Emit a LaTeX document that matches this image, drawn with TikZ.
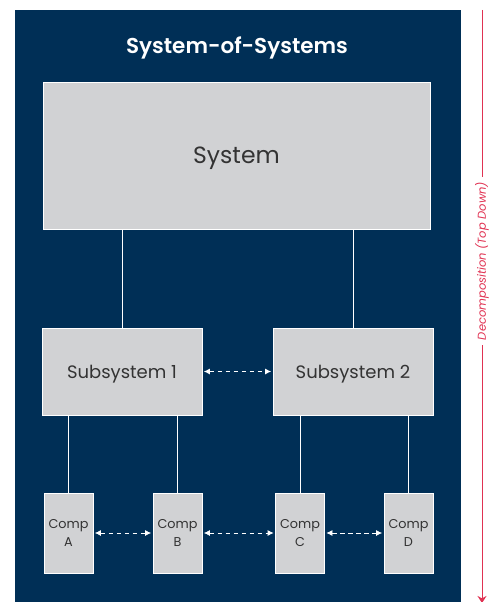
\documentclass[tikz,border=0pt]{standalone}
\usepackage{xcolor}
\usepackage{fontspec}
\setmainfont{Poppins}[BoldFont={Poppins SemiBold}]
\usetikzlibrary{arrows.meta}

\definecolor{navy}{RGB}{0,47,86}
\definecolor{boxgrey}{RGB}{209,210,212}
\definecolor{textgrey}{RGB}{51,51,51}
\definecolor{decored}{RGB}{224,50,82}

\begin{document}
\begin{tikzpicture}[x=1pt,y=-1pt]
			\tikzstyle{title} = [text=white, font=\bfseries\fontsize{21.5}{24}\selectfont]
			\tikzstyle{system} = [draw=white, fill=boxgrey, text=textgrey, line width=0.8pt, inner sep=0pt, text depth=0pt, minimum width=387pt, minimum height=147pt, font=\fontsize{23.5}{26}\selectfont]
			\tikzstyle{subsystem} = [system, minimum width=160pt, minimum height=87pt, font=\fontsize{18}{21}\selectfont]
			\tikzstyle{comp} = [system, minimum width=49pt, minimum height=80pt, align=center, text depth=-6pt, font=\fontsize{12.8}{17.5}\selectfont]
			\tikzstyle{decomp} = [rotate=90, text=decored, inner xsep=5pt, inner ysep=0pt, font=\itshape\fontsize{11.5}{13}\selectfont]
			\tikzset{edge/.style = {draw=white, line width=0.8pt}}
			\tikzset{link/.style = {edge, dash pattern=on 4.5pt off 3.5pt, {Latex[length=6pt,width=6pt]}-{Latex[length=6pt,width=6pt]}, shorten <=1.5pt, shorten >=1.5pt}}
			\tikzset{decoline/.style = {draw=decored, line width=1pt}}
			
			\useasboundingbox (0,0) rectangle (498,602);
			\fill[navy] (15,10) rectangle (461,602);
			
			\node[title](sos) at (237,48) {System-of-Systems};
			\node[system](system) at (236.5,155.5) {System};
			
			\node[subsystem](sub1) at (122,371.5) {Subsystem 1};
			\node[subsystem](sub2) at (353,371.5) {Subsystem 2};
			\draw[edge](system.south -| sub1.north) to (sub1.north);
			\draw[edge](system.south -| sub2.north) to (sub2.north);
			\draw[link](sub1) to (sub2);
			
			\node[comp](compA) at (68.5,533) {Comp\\A};
			\node[comp](compB) at (177.5,533) {Comp\\B};
			\node[comp](compC) at (300,533) {Comp\\C};
			\node[comp](compD) at (408.5,533) {Comp\\D};
			\draw[edge](sub1.south -| compA.north) to (compA.north);
			\draw[edge](sub1.south -| compB.north) to (compB.north);
			\draw[edge](sub2.south -| compC.north) to (compC.north);
			\draw[edge](sub2.south -| compD.north) to (compD.north);
			\draw[link](compA) to (compB);
			\draw[link](compB) to (compC);
			\draw[link](compC) to (compD);
			
			% decomposition arrow on the right
			\node[decomp](decomp) at (482,261) {Decomposition (Top Down)};
			\coordinate (decotop) at (482,10);
			\coordinate (decobottom) at (482,603);
			\draw[decoline](decotop) to (decomp.east);
			\draw[decoline, -{Stealth[length=7pt,width=9pt]}](decomp.west) to (decobottom);
			
\end{tikzpicture}
\end{document}
